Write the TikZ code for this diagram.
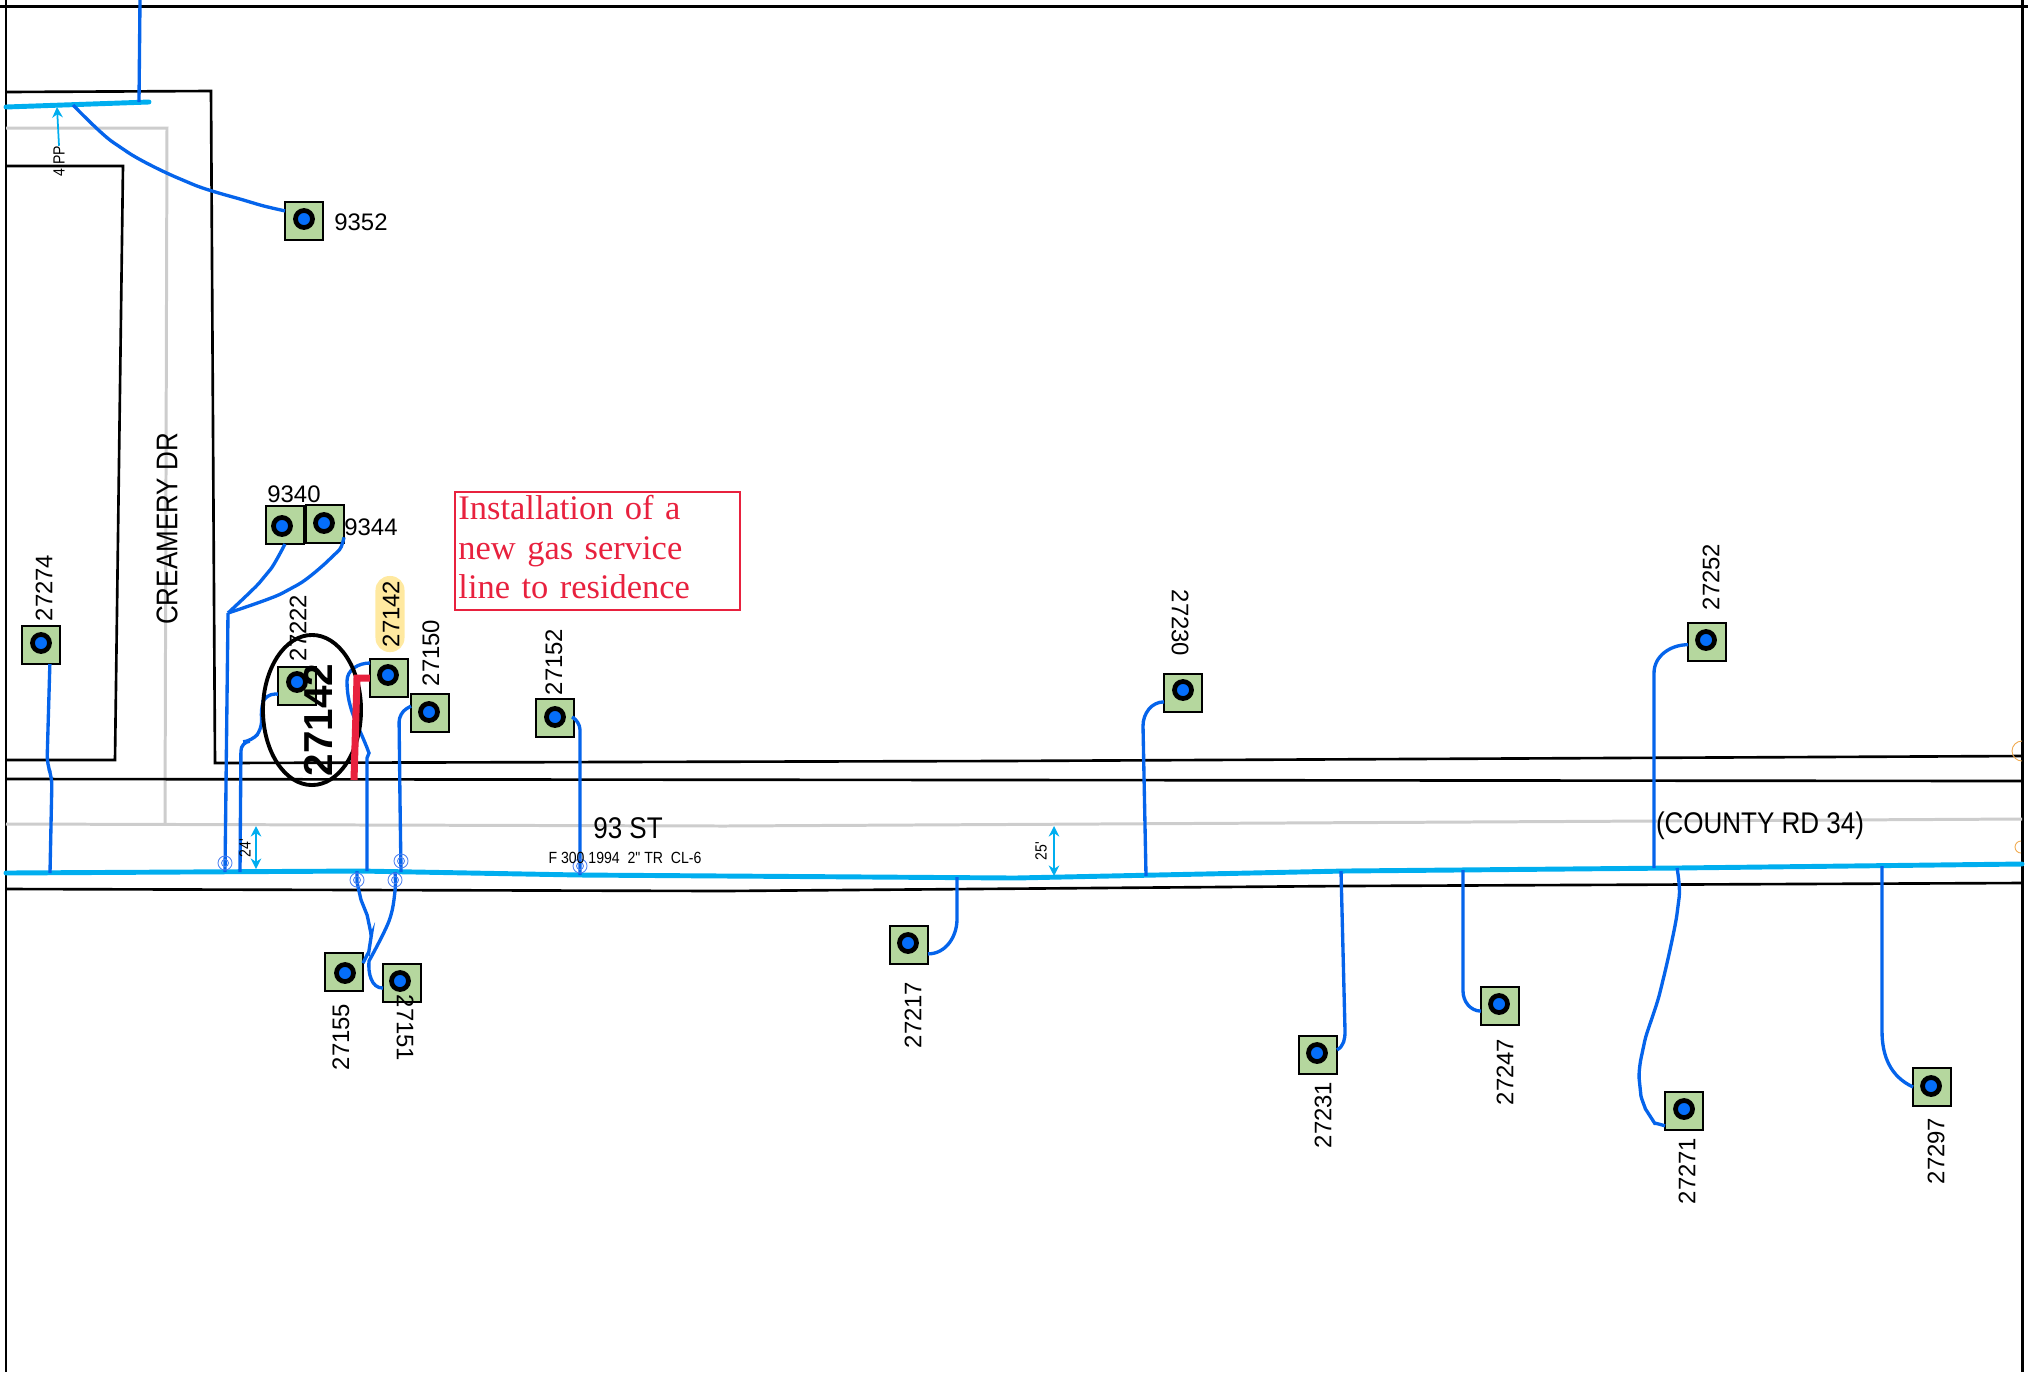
\documentclass[tikz,border=0pt]{standalone}
\usepackage{fontspec}
\setmainfont{Liberation Sans}
\newfontfamily\narrowfont[FakeStretch=0.87]{Liberation Sans}
\newfontfamily\notefont{Liberation Serif}
\usetikzlibrary{arrows.meta,shapes.geometric}
\definecolor{lotgreen}{RGB}{181,215,158}
\definecolor{meterblue}{RGB}{5,110,250}
\definecolor{serviceblue}{RGB}{5,100,235}
\definecolor{mainblue}{RGB}{0,174,239}
\definecolor{roadgray}{RGB}{205,205,205}
\definecolor{notered}{RGB}{232,33,62}
\definecolor{marker}{RGB}{255,233,160}
\definecolor{ringblue}{RGB}{80,130,240}
\definecolor{stubgold}{RGB}{240,170,80}
\tikzset{>={Stealth[length=6pt]}}
\tikzset{
    every node/.style={inner sep=0pt,outer sep=0pt},
    house/.style={rectangle,draw=black,fill=lotgreen,line width=0.6pt,minimum size=0.38cm},
    meter/.style={circle,draw=black,fill=meterblue,line width=1.35pt,minimum size=0.17cm},
    addr/.style={font=\fontsize{6.8}{8}\selectfont},
    addrup/.style={addr,rotate=90},
    addrdown/.style={addr,rotate=-90},
    roadname/.style={font=\narrowfont\fontsize{8.5}{10}\selectfont},
    tiny/.style={font=\narrowfont\fontsize{4.6}{5}\selectfont},
    tapring/.style={circle,draw=ringblue,line width=0.25pt,minimum size=0.14cm,
        path picture={\draw[ringblue,line width=0.25pt] (path picture bounding box.center) circle (0.035cm);}},
    boundary/.style={draw=black,line width=0.85pt},
    road/.style={draw=black,line width=0.75pt},
    centerline/.style={draw=roadgray,line width=0.85pt},
    gasmain/.style={draw=mainblue,line width=1.4pt,line cap=round},
    service/.style={draw=serviceblue,line width=0.95pt,rounded corners=2.5pt},
    bentservice/.style={service,sharp corners},
    dimline/.style={draw=mainblue,line width=0.5pt,>={Stealth[length=3pt,width=3pt]}},
    newline/.style={draw=notered,line width=2pt},
    note/.style={rectangle,draw=notered,line width=0.6pt,text=notered,align=left,
        font=\notefont\fontsize{9.8}{11.2}\selectfont,text width=2.78cm,text depth=24.7pt,minimum height=1.18cm,inner sep=1pt},
    callout/.style={ellipse,draw=black,line width=1.1pt,minimum width=0.98cm,minimum height=1.5cm},
    bignum/.style={font=\bfseries\fontsize{11.5}{13}\selectfont,rotate=90},
}

\begin{document}
\begin{tikzpicture}[x=0.01cm,y=-0.01cm]
		\useasboundingbox (0,-1) rectangle (2028,1371);

		\draw[boundary] (0,5) -- (2028,5);
		\draw[boundary] (6,-1) -- (6,1371);
		\draw[boundary] (2022,-1) -- (2022,1371);

		\draw[centerline] (6,127) -- (167,127) -- (165,823);
		\draw[centerline] (6,823) -- (724,825) -- (1654,820) -- (2022,818);
		\draw[road] (6,91) -- (211,90) -- (215,762) -- (1000,760) -- (2022,755);
		\draw[road] (6,165) -- (123,165) -- (115,759) -- (6,759);
		\draw[road] (6,778) -- (1000,779) -- (2022,780);
		\draw[road] (6,888) -- (724,890) -- (1345,885) -- (2022,882);

		\draw[stubgold,line width=0.25pt] (2022,740) arc[start angle=-90,end angle=-180,radius=10] arc[start angle=180,end angle=90,radius=10];
		\draw[stubgold,line width=0.25pt] (2021,840) arc[start angle=-90,end angle=-180,radius=6] arc[start angle=180,end angle=90,radius=6];

		\draw[gasmain] (6,106) -- (149,101);
		\draw[gasmain] (6,872) -- (360,870) -- (580,874) -- (1015,877) -- (1345,870) -- (1677,867) -- (2022,863);

		\node[house] (h9352) at (304,220) {};
		\node[house] (h9340) at (285,524) {};
		\node[house] (h9344) at (325,523) {};
		\node[house] (h27274) at (41,644) {};
		\node[house] (h27222) at (297,685) {};
		\node[house] (h27142) at (389,677) {};
		\node[house] (h27150) at (430,712) {};
		\node[house] (h27152) at (555,717) {};
		\node[house] (h27155) at (344,971) {};
		\node[house] (h27151) at (402,982) {};
		\node[house] (h27217) at (909,944) {};
		\node[house] (h27230) at (1183,692) {};
		\node[house] (h27252) at (1707,641) {};
		\node[house] (h27231) at (1318,1054) {};
		\node[house] (h27247) at (1500,1005) {};
		\node[house] (h27271) at (1684,1110) {};
		\node[house] (h27297) at (1932,1086) {};

		\node[meter] (m9352) at (304,218) {};
		\node[meter] (m9340) at (282,525) {};
		\node[meter] (m9344) at (324,522) {};
		\node[meter] (m27274) at (41,642) {};
		\node[meter] (m27222) at (297,681) {};
		\node[meter] (m27142) at (388,674) {};
		\node[meter] (m27150) at (429,711) {};
		\node[meter] (m27152) at (555,716) {};
		\node[meter] (m27155) at (345,972) {};
		\node[meter] (m27151) at (400,980) {};
		\node[meter] (m27217) at (908,942) {};
		\node[meter] (m27230) at (1183,689) {};
		\node[meter] (m27252) at (1706,639) {};
		\node[meter] (m27231) at (1317,1052) {};
		\node[meter] (m27247) at (1499,1003) {};
		\node[meter] (m27271) at (1684,1108) {};
		\node[meter] (m27297) at (1931,1085) {};

		\coordinate (feed) at (140,-1);
		\coordinate (tfeed) at (139,101);
		\coordinate (t9352) at (73,104);
		\coordinate (tlane) at (228,612);
		\coordinate (t9340) at (225,871);
		\coordinate (t27274) at (50,872);
		\coordinate (t27222) at (240,871);
		\coordinate (t27142) at (367,870);
		\coordinate (t27150) at (401,871);
		\coordinate (t27152) at (580,874);
		\coordinate (t27155) at (357,870);
		\coordinate (t27151) at (395,871);
		\coordinate (t27217) at (957,876);
		\coordinate (t27230) at (1146,875);
		\coordinate (t27252) at (1654,867);
		\coordinate (t27231) at (1341,870);
		\coordinate (t27247) at (1463,869);
		\coordinate (t27271) at (1677,867);
		\coordinate (t27297) at (1882,865);

		\draw[service] (feed) -- (tfeed);
		\draw[service] plot[smooth,tension=0.6] coordinates {(t9352) (120,146) (185,180) (250,201) (h9352.152)};
		\draw[service] plot[smooth,tension=0.6] coordinates {(h9340.south) (265,575) (tlane)};
		\draw[service] plot[smooth,tension=0.6] coordinates {(h9344.-35) (333,555) (290,588) (tlane)};
		\draw[service] (tlane) -- (t9340);
		\draw[service] (h27274.-65) -- (47,763) -- (52,776) -- (t27274);
		\draw[service] (h27222.203) -- (266,693) -- (261,705) -- (262,728) -- (252,740) -- (241,741) -- (t27222);
		\draw[bentservice] (h27142.west |- 358,662) to[out=180,in=90] (347,680) to[out=-90,in=110] (369,752) -- (367,757) -- (t27142);
		\draw[service] (h27150.160) -- (399,712) -- (400,800) -- (t27150);
		\draw[service] (h27152.east) -- (580,720) -- (t27152);
		\draw[service] plot[smooth,tension=0.6] coordinates {(t27155) (359,890) (369,923) (370,943) (h27155.25)};
		\draw[bentservice] plot[smooth,tension=0.6] coordinates {(t27151) (395,890) (389,920) (369,960)} to[out=-95,in=180] (h27151.195);
		\draw[bentservice] (t27217) -- (957,918) to[out=-90,in=0] (h27217.-25);
		\draw[bentservice] (t27230) -- (1143,725) to[out=90,in=180] (h27230.205);
		\draw[bentservice] (t27252) -- (1654,672) to[out=90,in=180] (h27252.188);
		\draw[bentservice] (t27231) -- (1345,1030) to[out=-90,in=30] (h27231.15);
		\draw[bentservice] (t27247) -- (1463,990) to[out=-90,in=180] (h27247.195);
		\draw[service] plot[smooth,tension=0.6] coordinates {(t27271) (1678,905) (1662,983) (1643,1048) (1640,1086) (1650,1115) (h27271.218)};
		\draw[bentservice] (t27297) -- (1882,1030) to[out=-90,in=155] (h27297.west);

		\node[tapring] (r9340) at (225,862) {};
		\node[tapring] (r27155) at (357,879) {};
		\node[tapring] (r27151) at (395,879) {};
		\node[tapring] (r27150) at (401,860) {};
		\node[tapring] (r27152) at (580,865) {};

		\coordinate (dtop) at (57,106);
		\coordinate (d24a) at (256,825);
		\coordinate (d24b) at (256,868);
		\coordinate (d25a) at (1054,825);
		\coordinate (d25b) at (1054,875);
		\node[tiny,rotate=90] (l4pp) at (59,160) {4 PP};
		\node[tiny,rotate=90] (l24) at (245,847) {24'};
		\node[tiny,rotate=90] (l25) at (1041,850) {25'};
		\draw[dimline,->] (l4pp.east) -- (dtop);
		\draw[dimline,<->] (d24a) -- (d24b);
		\draw[dimline,<->] (d25a) -- (d25b);

		\node[addr] (l9352) at (361,221) {9352};
		\node[addr] (l9340) at (294,493) {9340};
		\node[addr] (l9344) at (371,526) {9344};
		\node[addrup] (l27274) at (44,587) {27274};
		\node[addrup] (l27222) at (298,627) {27222};
		\node[rectangle,fill=marker,rounded corners=4pt,minimum width=0.29cm,minimum height=0.76cm] (mark) at (390,613) {};
		\node[addrup] (l27142) at (391,613) {27142};
		\node[addrup] (l27150) at (431,652) {27150};
		\node[addrup] (l27152) at (554,661) {27152};
		\node[addrdown] (l27230) at (1180,622) {27230};
		\node[addrup] (l27252) at (1711,576) {27252};
		\node[addrup] (l27155) at (341,1036) {27155};
		\node[addrdown] (l27151) at (405,1027) {27151};
		\node[addrup] (l27217) at (913,1014) {27217};
		\node[addrup] (l27231) at (1323,1114) {27231};
		\node[addrup] (l27247) at (1505,1071) {27247};
		\node[addrup] (l27271) at (1687,1170) {27271};
		\node[addrup] (l27297) at (1936,1150) {27297};

		\node[roadname,rotate=90] (lcreamery) at (167,528) {CREAMERY DR};
		\node[roadname] (l93st) at (628,827) {93 ST};
		\node[roadname] (lcounty) at (1760,825) {(COUNTY RD 34)};
		\node[tiny] (lpipe) at (625,857) {F 300 1994\ \ 2" TR\ \ CL-6};

		\node[callout] (c27142) at (312,709) {};
		\node[bignum] (l27142big) at (318,719) {27142};

		\coordinate (newend) at (354,779);
		\draw[newline] (newend) -- (357,677) -- (h27142.west |- 357,677);

		\node[note] (nnote) at (597.5,550) {Installation of a\\new gas service\\line to residence};
	\end{tikzpicture}
\end{document}
